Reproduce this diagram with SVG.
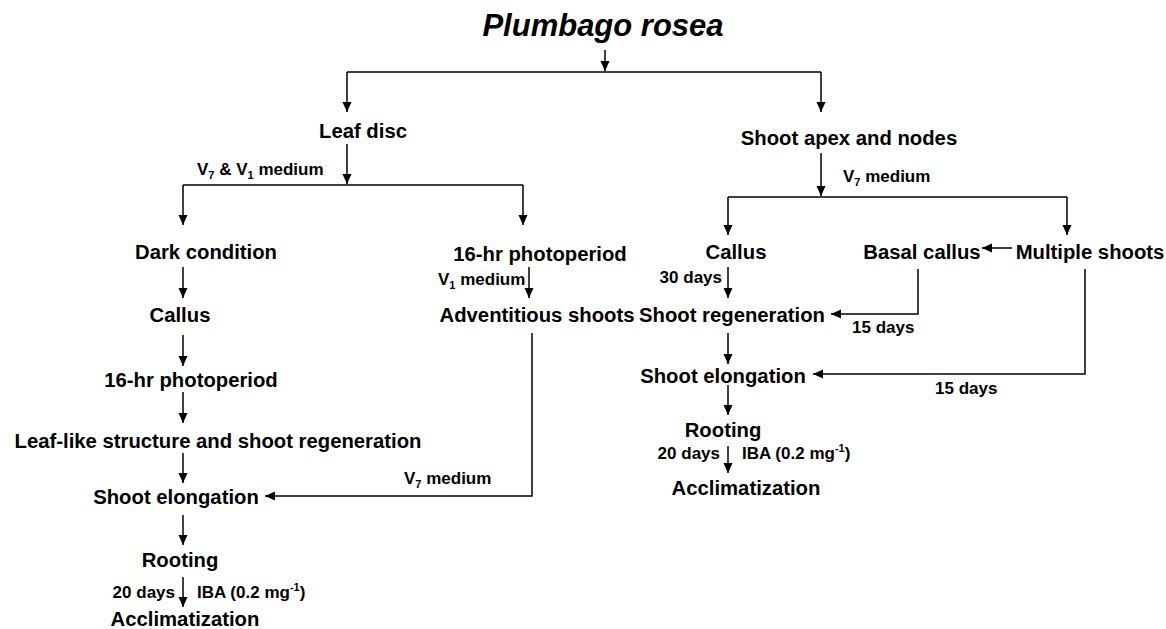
<svg xmlns="http://www.w3.org/2000/svg" width="1166" height="629" viewBox="0 0 1166 629">
<defs>
<marker id="ah" markerUnits="userSpaceOnUse" markerWidth="10" markerHeight="10" refX="10" refY="4.5" orient="auto">
<path d="M0,0 L10,4.5 L0,9 z" fill="#000"/>
</marker>
<style>
.n{font-family:"Liberation Sans",Arial,sans-serif;font-weight:bold;font-size:20.3px;fill:#000;text-anchor:middle}
.s{font-family:"Liberation Sans",Arial,sans-serif;font-weight:bold;font-size:17px;fill:#000}
.t{font-family:"Liberation Sans",Arial,sans-serif;font-weight:bold;font-style:italic;font-size:31px;fill:#000;text-anchor:middle}
.c path{fill:none;stroke:#000;stroke-width:1.5}
.c path.a{marker-end:url(#ah)}
</style>
</defs>
<rect width="1166" height="629" fill="#fff"/>
<g id="title"><text class="t" x="603" y="36">Plumbago rosea</text></g>
<g id="leaf-disc"><text class="n" x="363" y="138">Leaf disc</text></g>
<g id="shoot-apex"><text class="n" x="849" y="145">Shoot apex and nodes</text></g>
<g id="dark-condition"><text class="n" x="206" y="259">Dark condition</text></g>
<g id="photoperiod-b"><text class="n" x="540" y="261">16-hr photoperiod</text></g>
<g id="adventitious"><text class="n" x="537" y="322">Adventitious shoots</text></g>
<g id="callus-l"><text class="n" x="180" y="322">Callus</text></g>
<g id="photoperiod-l"><text class="n" x="191" y="387">16-hr photoperiod</text></g>
<g id="leaf-like"><text class="n" x="218" y="448">Leaf-like structure and shoot regeneration</text></g>
<g id="elongation-l"><text class="n" x="176" y="504">Shoot elongation</text></g>
<g id="rooting-l"><text class="n" x="180" y="567">Rooting</text></g>
<g id="acclim-l"><text class="n" x="185" y="626">Acclimatization</text></g>
<g id="callus-r"><text class="n" x="736" y="259">Callus</text></g>
<g id="basal-callus"><text class="n" x="922" y="259">Basal callus</text></g>
<g id="multiple-shoots"><text class="n" x="1090" y="259">Multiple shoots</text></g>
<g id="regeneration-r"><text class="n" x="732" y="322">Shoot regeneration</text></g>
<g id="elongation-r"><text class="n" x="723" y="383">Shoot elongation</text></g>
<g id="rooting-r"><text class="n" x="723" y="437">Rooting</text></g>
<g id="acclim-r"><text class="n" x="746" y="495">Acclimatization</text></g>
<g id="labels">
<text class="s" x="197" y="175">V<tspan font-size="11" dy="4">7</tspan><tspan dy="-4"> &amp; V</tspan><tspan font-size="11" dy="4">1</tspan><tspan dy="-4"> medium</tspan></text>
<text class="s" x="438" y="285">V<tspan font-size="11" dy="4">1</tspan><tspan dy="-4"> medium</tspan></text>
<text class="s" x="404" y="484">V<tspan font-size="11" dy="4">7</tspan><tspan dy="-4"> medium</tspan></text>
<text class="s" x="843" y="182">V<tspan font-size="11" dy="4">7</tspan><tspan dy="-4"> medium</tspan></text>
<text class="s" x="722" y="283" text-anchor="end">30 days</text>
<text class="s" x="852" y="333">15 days</text>
<text class="s" x="935" y="394">15 days</text>
<text class="s" x="720" y="459" text-anchor="end">20 days</text>
<text class="s" x="742" y="459">IBA (0.2 mg<tspan font-size="11" dy="-7">-1</tspan><tspan dy="7">)</tspan></text>
<text class="s" x="175" y="598" text-anchor="end">20 days</text>
<text class="s" x="197" y="598">IBA (0.2 mg<tspan font-size="11" dy="-7">-1</tspan><tspan dy="7">)</tspan></text>
</g>
<g id="connectors" class="c">
<path class="a" d="M605,50 V71"/>
<path d="M347,72 H821"/>
<path class="a" d="M347,72 V112"/>
<path class="a" d="M821,72 V112"/>
<path class="a" d="M347,144 V184"/>
<path d="M183,185 H523"/>
<path class="a" d="M183,185 V225"/>
<path class="a" d="M523,185 V225"/>
<path class="a" d="M821,153 V196"/>
<path d="M728,197 H1067"/>
<path class="a" d="M728,197 V235"/>
<path class="a" d="M1067,197 V235"/>
<path class="a" d="M183,267 V298"/>
<path class="a" d="M183,335 V366"/>
<path class="a" d="M183,392 V423"/>
<path class="a" d="M183,453 V483"/>
<path class="a" d="M183,515 V545"/>
<path class="a" d="M183,577 V607"/>
<path class="a" d="M529,267 V298"/>
<path class="a" d="M532,333 V496 H265"/>
<path class="a" d="M728,267 V298"/>
<path class="a" d="M728,333 V364"/>
<path class="a" d="M728,385 V415"/>
<path class="a" d="M728,446 V473"/>
<path class="a" d="M1012,248 H982"/>
<path class="a" d="M918,269 V314 H831"/>
<path class="a" d="M1085,269 V374 H813"/>
</g>
</svg>
